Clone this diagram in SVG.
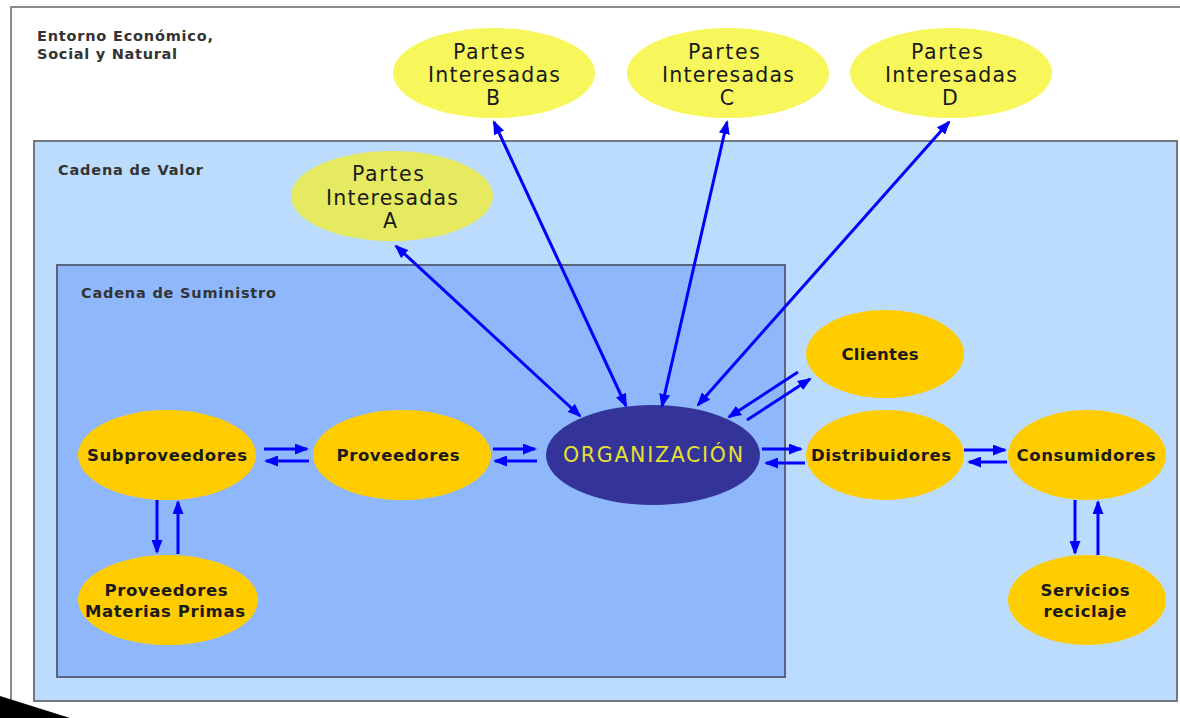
<svg xmlns="http://www.w3.org/2000/svg" width="1180" height="718" viewBox="0 0 1180 718">
<style>
.lbl{font-family:"DejaVu Sans",Verdana,sans-serif;font-weight:bold;font-size:16.5px;fill:#1a1a1a;text-anchor:middle}
.pi{font-family:"DejaVu Sans",Verdana,sans-serif;font-size:20.5px;fill:#1a1a1a;text-anchor:middle}
.ttl{font-family:"DejaVu Sans",Verdana,sans-serif;font-weight:bold;font-size:14.5px;fill:#333333}
.or{fill:#ffcc00}
.ye{fill:#f7f75c}
.con line{stroke:#0000ff;stroke-width:3;marker-end:url(#ah)}
.con line.bi{marker-start:url(#ah)}
</style>
<defs>
<marker id="ah" viewBox="0 0 14 11" refX="12" refY="5.5" markerWidth="14" markerHeight="11" markerUnits="userSpaceOnUse" orient="auto-start-reverse">
<path d="M0,0 L14,5.5 L0,11 z" fill="#0000ff"/>
</marker>
</defs>
<rect x="0" y="0" width="1180" height="718" fill="#ffffff"/>
<g id="entorno">
<rect x="11" y="7" width="1180" height="730" fill="#ffffff" stroke="#8c8c8c" stroke-width="2"/>
<text class="ttl" x="37" y="41" textLength="176">Entorno Económico,</text>
<text class="ttl" x="37" y="59" textLength="140">Social y Natural</text>
</g>
<g id="cadena-valor">
<rect x="34" y="141" width="1143" height="560" fill="#bbdcfd" stroke="#707880" stroke-width="2"/>
<text class="ttl" x="58" y="175" textLength="145">Cadena de Valor</text>
</g>
<g id="cadena-suministro">
<rect x="57" y="265" width="728" height="412" fill="#8fb8fc" stroke="#5a6480" stroke-width="2"/>
<text class="ttl" x="81" y="298" textLength="195">Cadena de Suministro</text>
</g>
<g id="pi-b">
<ellipse class="ye" cx="494" cy="73" rx="101" ry="45"/>
<text class="pi" x="489" y="59" textLength="72">Partes</text>
<text class="pi" x="494" y="82" textLength="132">Interesadas</text>
<text class="pi" x="493" y="105">B</text>
</g>
<g id="pi-c">
<ellipse class="ye" cx="728" cy="73" rx="101" ry="45"/>
<text class="pi" x="724" y="59" textLength="72">Partes</text>
<text class="pi" x="728" y="82" textLength="132">Interesadas</text>
<text class="pi" x="727" y="105">C</text>
</g>
<g id="pi-d">
<ellipse class="ye" cx="951" cy="73" rx="101" ry="45"/>
<text class="pi" x="947" y="59" textLength="72">Partes</text>
<text class="pi" x="951" y="82" textLength="132">Interesadas</text>
<text class="pi" x="950" y="105">D</text>
</g>
<g id="pi-a">
<ellipse cx="392" cy="196" rx="101" ry="45" fill="#e6ea60"/>
<text class="pi" x="388" y="181" textLength="72">Partes</text>
<text class="pi" x="392" y="205" textLength="132">Interesadas</text>
<text class="pi" x="390" y="228">A</text>
</g>
<g id="subproveedores">
<ellipse class="or" cx="167" cy="455" rx="89" ry="45"/>
<text class="lbl" x="167" y="461" textLength="160">Subproveedores</text>
</g>
<g id="proveedores">
<ellipse class="or" cx="402" cy="455" rx="89" ry="45"/>
<text class="lbl" x="398" y="461" textLength="123">Proveedores</text>
</g>
<g id="proveedores-mp">
<ellipse class="or" cx="168" cy="600" rx="90" ry="45"/>
<text class="lbl" x="166" y="596" textLength="123">Proveedores</text>
<text class="lbl" x="165" y="617" textLength="160">Materias Primas</text>
</g>
<g id="organizacion">
<ellipse cx="653" cy="455" rx="107" ry="50" fill="#333399"/>
<text x="653" y="462" text-anchor="middle" font-family="DejaVu Sans, Verdana, sans-serif" font-size="20.5" fill="#e8e030" textLength="180">ORGANIZACIÓN</text>
</g>
<g id="clientes">
<ellipse class="or" cx="885" cy="354" rx="79" ry="44"/>
<text class="lbl" x="880" y="360" textLength="77">Clientes</text>
</g>
<g id="distribuidores">
<ellipse class="or" cx="885" cy="455" rx="79" ry="45"/>
<text class="lbl" x="881" y="461" textLength="140">Distribuidores</text>
</g>
<g id="consumidores">
<ellipse class="or" cx="1087" cy="455" rx="79" ry="45"/>
<text class="lbl" x="1086" y="461" textLength="139">Consumidores</text>
</g>
<g id="servicios-reciclaje">
<ellipse class="or" cx="1087" cy="600" rx="79" ry="45"/>
<text class="lbl" x="1085" y="596" textLength="89">Servicios</text>
<text class="lbl" x="1085" y="617" textLength="83">reciclaje</text>
</g>
<g id="connectors" class="con">
<line x1="264" y1="449" x2="307" y2="449"/>
<line x1="309" y1="461" x2="266" y2="461"/>
<line x1="493" y1="449" x2="535" y2="449"/>
<line x1="537" y1="461" x2="495" y2="461"/>
<line x1="762" y1="449" x2="801" y2="449"/>
<line x1="805" y1="463" x2="766" y2="463"/>
<line x1="964" y1="450" x2="1005" y2="450"/>
<line x1="1007" y1="462" x2="969" y2="462"/>
<line x1="157" y1="500" x2="157" y2="552"/>
<line x1="178" y1="554" x2="178" y2="502"/>
<line x1="1075" y1="500" x2="1075" y2="553"/>
<line x1="1098" y1="555" x2="1098" y2="502"/>
<line x1="798" y1="372" x2="729" y2="417"/>
<line x1="747" y1="420" x2="810" y2="379"/>
<line class="bi" x1="396" y1="246" x2="580" y2="416"/>
<line class="bi" x1="494" y1="122" x2="626" y2="406"/>
<line class="bi" x1="727" y1="122" x2="662" y2="406"/>
<line class="bi" x1="949" y1="122" x2="698" y2="405"/>
</g>
<polygon points="0,696 70,718 0,718" fill="#000000"/>
</svg>
